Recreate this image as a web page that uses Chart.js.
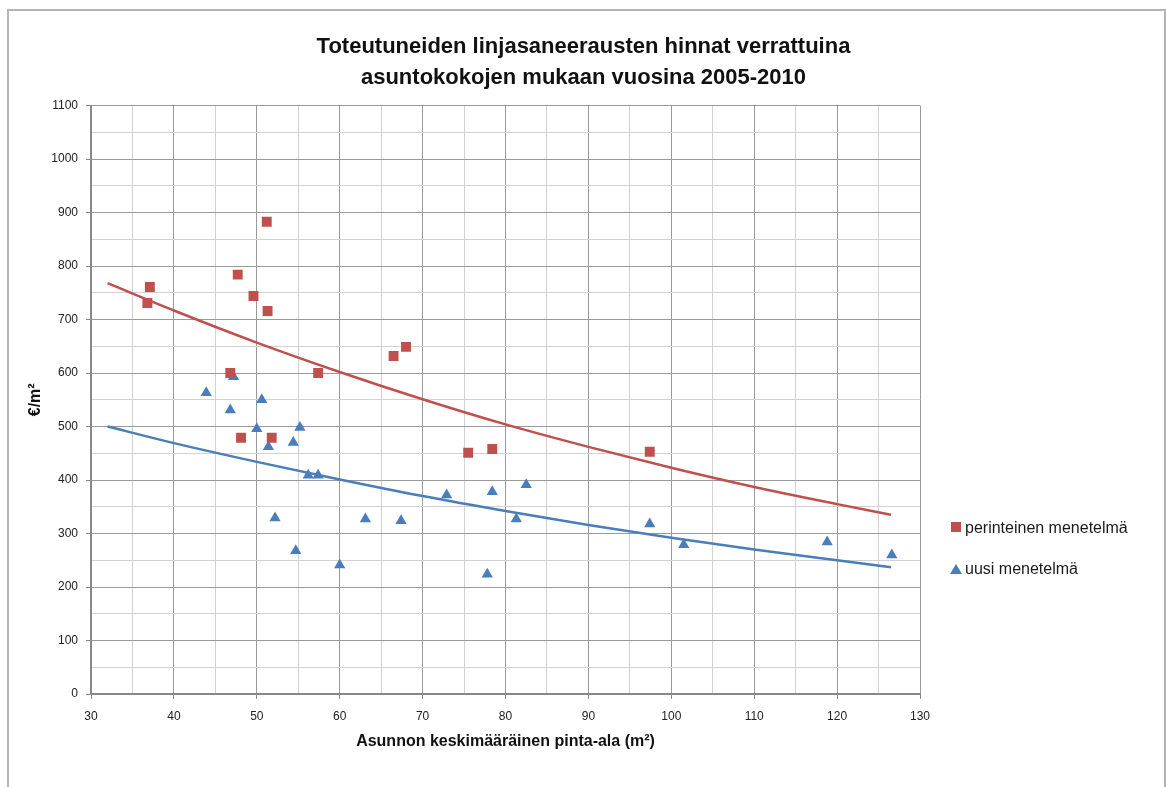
<!DOCTYPE html>
<html>
<head>
<meta charset="utf-8">
<script src="https://cdn.jsdelivr.net/npm/chart.js@4"></script>
<style>
  body { margin: 0; background: #fff; }
  #frame { position: absolute; left: 7px; top: 9px; width: 1159px; height: 800px;
           box-sizing: border-box; border: 2px solid #b4b4b4; border-bottom: none; }
  #wrap { position: absolute; left: 0; top: 0; width: 1167px; height: 787px; }
</style>
</head>
<body>
<div id="frame"></div>
<div id="wrap"><canvas id="chart"></canvas></div>
<script>
// Linjasaneerausten hinnat, perinteinen vs uusi menetelmä

var redX = [36.8, 37.1, 46.8, 47.7, 48.1, 49.6, 51.2, 51.3, 51.8, 57.4, 66.5, 68.0, 75.5, 78.4, 97.4];
var redY = [731, 761, 600, 784, 479, 744, 883, 716, 479, 600, 632, 649, 451, 458, 453];

var blueX = [43.9, 46.8, 47.2, 50.0, 50.6, 51.4, 52.2, 54.4, 54.7, 55.2, 56.2, 57.4, 60.0, 63.1,
             67.4, 72.9, 77.8, 78.4, 81.3, 82.5, 97.4, 101.5, 118.8, 126.6];
var blueY = [563, 531, 593, 496, 550, 462, 329, 470, 268, 498, 409, 409, 241, 327,
             324, 372, 224, 378, 327, 391, 318, 279, 284, 260];

// trendlines
var trendX = [32, 40, 50, 60, 70, 80, 90, 100, 110, 120, 126.5];
var redTrend = [768, 717, 657, 602, 551, 504, 462, 423, 387, 355, 335];
var blueTrend = [500, 469, 434, 401, 370, 342, 316, 292, 270, 250, 237];

var labels = ['perinteinen menetelmä', 'uusi menetelmä'];
var titleLines = ['Toteutuneiden linjasaneerausten hinnat verrattuina', 'asuntokokojen mukaan vuosina 2005-2010'];

var RED = '#C0504D';
var BLUE = '#4A7EBB';

function pts(xs, ys) {
    return xs.map(function (x, i) { return { x: x, y: ys[i] }; });
}

var legendPlugin = {
    id: 'sideLegend',
    afterDraw: function (chart) {
        var ctx = chart.ctx;
        var left = chart.chartArea.right + 31;
        ctx.save();
        ctx.font = '16px "Liberation Sans", Arial, sans-serif';
        ctx.textBaseline = 'middle';
        // square
        ctx.fillStyle = RED;
        ctx.fillRect(left, 522, 10, 10);
        ctx.fillStyle = '#1a1a1a';
        ctx.fillText(labels[0], left + 14, 529);
        // triangle
        ctx.fillStyle = BLUE;
        ctx.beginPath();
        ctx.moveTo(left + 5, 564);
        ctx.lineTo(left + 11, 574);
        ctx.lineTo(left - 1, 574);
        ctx.closePath();
        ctx.fill();
        ctx.fillStyle = '#1a1a1a';
        ctx.fillText(labels[1], left + 14, 570);
        ctx.restore();
    }
};

Chart.defaults.font.family = '"Liberation Sans", Arial, sans-serif';
Chart.defaults.color = '#222';

var MAJOR = '#9a9a9a';
var MINOR = '#d2d2d2';

var ctx = document.getElementById('chart').getContext('2d');
var chart = new Chart(ctx, {
    type: 'scatter',
    data: {
        datasets: [{
            label: labels[0],
            data: pts(redX, redY),
            backgroundColor: RED,
            borderColor: RED,
            pointStyle: 'rect',
            pointRadius: 7,
            pointBorderWidth: 0,
            order: 1
        }, {
            label: labels[1],
            data: pts(blueX, blueY),
            backgroundColor: BLUE,
            borderColor: BLUE,
            pointStyle: 'triangle',
            pointRadius: 6.5,
            pointBorderWidth: 0,
            order: 1
        }, {
            label: 'trend perinteinen',
            data: pts(trendX, redTrend),
            showLine: true,
            borderColor: RED,
            borderWidth: 2.5,
            pointRadius: 0,
            cubicInterpolationMode: 'monotone',
            order: 2
        }, {
            label: 'trend uusi',
            data: pts(trendX, blueTrend),
            showLine: true,
            borderColor: BLUE,
            borderWidth: 2.5,
            pointRadius: 0,
            cubicInterpolationMode: 'monotone',
            order: 2
        }]
    },
    options: {
        responsive: true,
        maintainAspectRatio: false,
        animation: false,
        layout: { padding: 0 },
        plugins: {
            legend: { display: false },
            tooltip: { enabled: false },
            title: {
                display: true,
                text: titleLines,
                color: '#111',
                font: { size: 22, weight: 'bold', lineHeight: 1.4 },
                padding: { top: 32, bottom: 12 }
            }
        },
        scales: {
            x: {
                type: 'linear',
                min: 30,
                max: 130,
                afterFit: function (s) { s.height = 93; },
                ticks: {
                    stepSize: 5,
                    padding: 10,
                    maxRotation: 0,
                    autoSkip: false,
                    font: { size: 12 },
                    callback: function (v) { return v % 10 === 0 ? v : ''; }
                },
                grid: {
                    color: function (c) { return c.tick && c.tick.value % 10 === 0 ? MAJOR : MINOR; },
                    tickColor: function (c) { return c.tick && c.tick.value % 10 === 0 ? '#888' : 'rgba(0,0,0,0)'; },
                    tickLength: 5
                },
                border: { color: '#888', width: 2 },
                title: {
                    display: true,
                    text: 'Asunnon keskimääräinen pinta-ala (m²)',
                    color: '#111',
                    font: { size: 16, weight: 'bold' },
                    padding: { top: 0, bottom: 36 }
                }
            },
            y: {
                min: 0,
                max: 1100,
                afterFit: function (s) { s.width = 91; },
                ticks: {
                    stepSize: 50,
                    padding: 8,
                    autoSkip: false,
                    font: { size: 12 },
                    callback: function (v) { return v % 100 === 0 ? v : ''; }
                },
                grid: {
                    color: function (c) { return c.tick && c.tick.value % 100 === 0 ? MAJOR : MINOR; },
                    tickColor: function (c) { return c.tick && c.tick.value % 100 === 0 ? '#888' : 'rgba(0,0,0,0)'; },
                    tickLength: 5
                },
                border: { color: '#888', width: 2 },
                title: {
                    display: true,
                    text: '€/m²',
                    color: '#111',
                    font: { size: 16, weight: 'bold' },
                    padding: { top: 26, bottom: 0 }
                }
            },
            // empty right-hand box that holds the legend space
            legendSpace: {
                type: 'linear',
                position: 'right',
                afterFit: function (s) { s.width = 247; },
                ticks: { display: false },
                grid: { display: false, drawTicks: false },
                border: { display: false }
            }
        }
    },
    plugins: [legendPlugin]
});
</script>
</body>
</html>
